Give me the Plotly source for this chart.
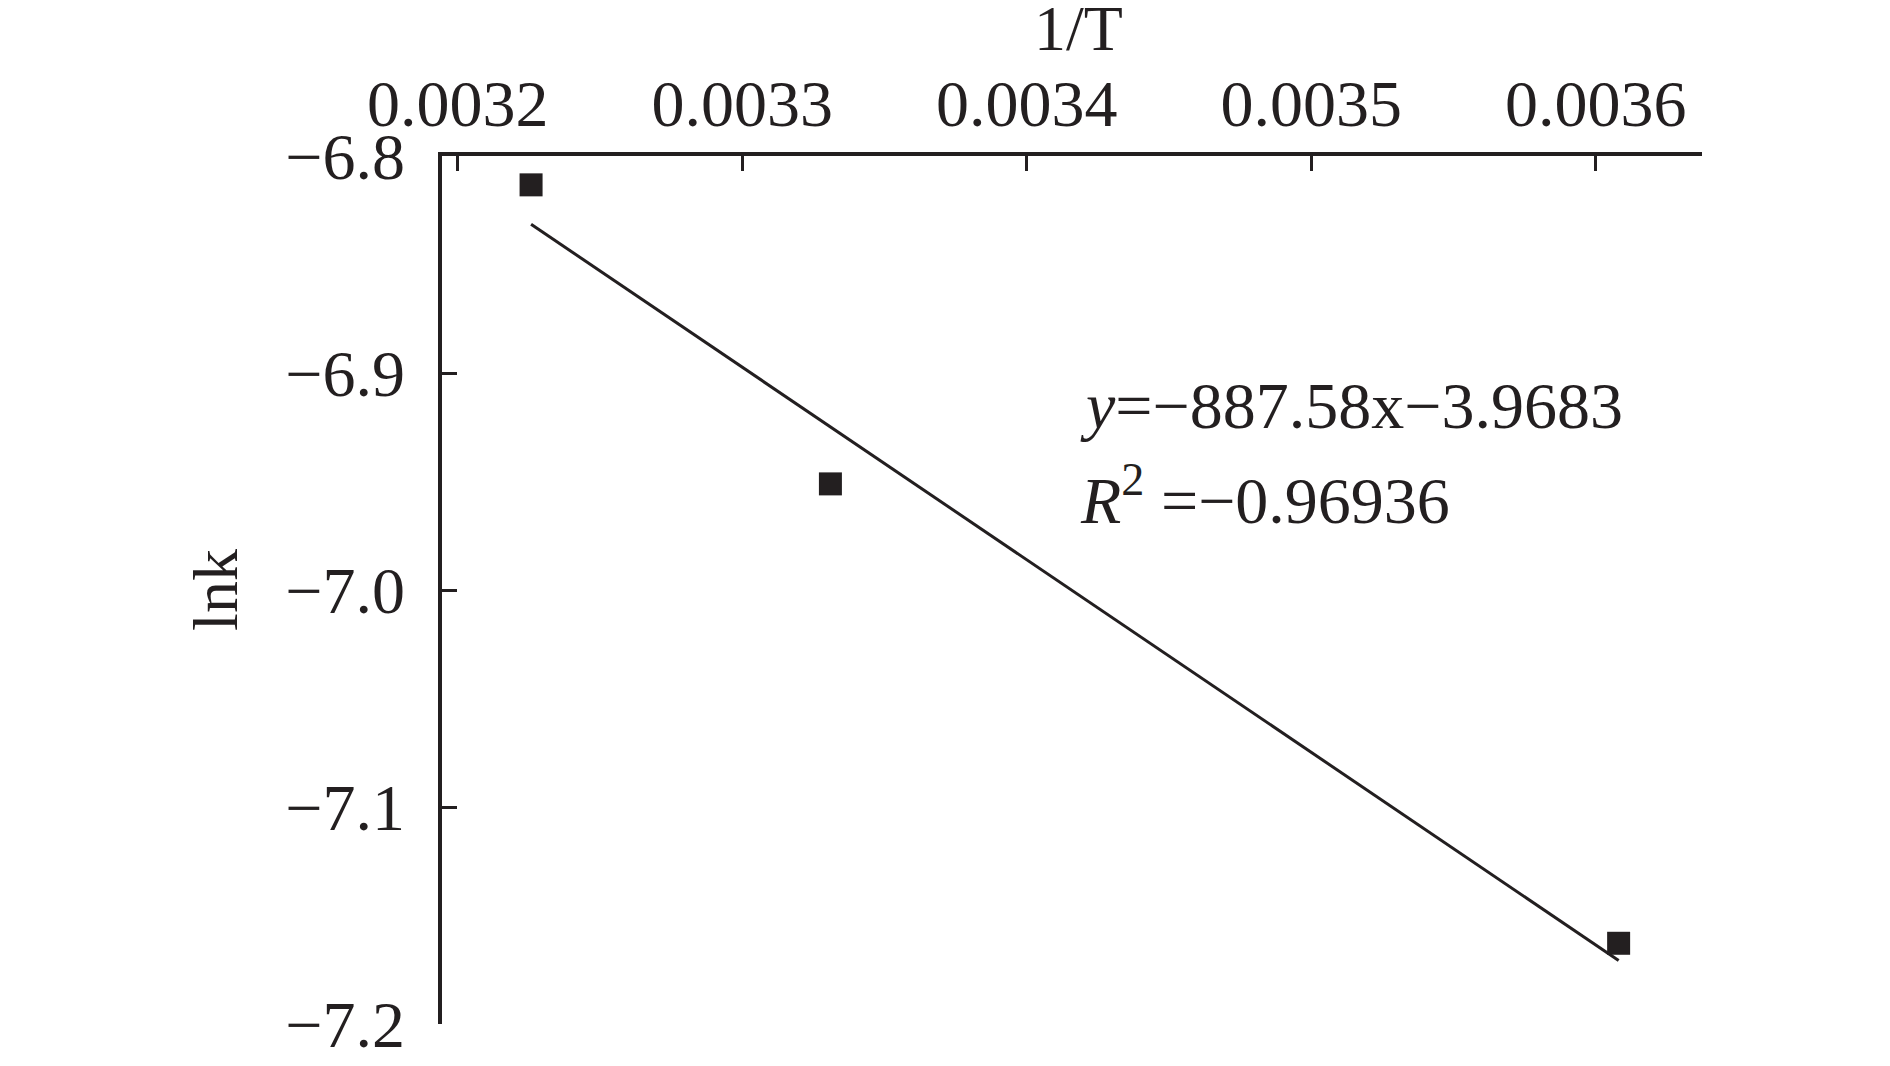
import plotly.graph_objects as go

# Data
inv_T = [0.0032258, 0.0033310, 0.0036080]
ln_k = [-6.8133, -6.9511, -7.1628]
slope = -887.58
intercept = -3.9683
x_ticks = [0.0032, 0.0033, 0.0034, 0.0035, 0.0036]
x_tick_labels = ["0.0032", "0.0033", "0.0034", "0.0035", "0.0036"]
y_ticks = [-6.8, -6.9, -7.0, -7.1, -7.2]
y_tick_labels = ["\u22126.8", "\u22126.9", "\u22127.0", "\u22127.1", "\u22127.2"]
x_title = "1/T"
y_title = "lnk"
eq_text = "<i>y</i>=\u2212887.58x\u22123.9683"
r2_text = "<i>R</i><sup>2</sup> =\u22120.96936"

ink = "#231F20"
font_family = "Liberation Serif, Times New Roman, serif"

fit_x = [min(inv_T), max(inv_T)]
fit_y = [slope * v + intercept for v in fit_x]

fig = go.Figure()
fig.add_trace(go.Scatter(x=fit_x, y=fit_y, mode="lines",
                         line=dict(color=ink, width=3), showlegend=False))
fig.add_trace(go.Scatter(x=inv_T, y=ln_k, mode="markers",
                         marker=dict(symbol="square", size=23, color=ink),
                         showlegend=False))

fig.update_layout(
    width=1890, height=1066,
    margin=dict(l=434, r=196, t=148, b=50),
    paper_bgcolor="white", plot_bgcolor="white",
    font=dict(family=font_family, size=66, color=ink),
    xaxis=dict(
        side="top", range=[0.0031945, 0.0036373], automargin=False,
        tickvals=x_ticks, ticktext=x_tick_labels,
        ticks="inside", ticklen=15, tickwidth=3, tickcolor=ink,
        showline=True, linecolor=ink, linewidth=3.5,
        showgrid=False, zeroline=False,
        ticklabelstandoff=0,
    ),
    yaxis=dict(
        range=[-7.2, -6.8], automargin=False,
        tickvals=y_ticks, ticktext=y_tick_labels,
        ticks="inside", ticklen=15, tickwidth=3, tickcolor=ink,
        showline=True, linecolor=ink, linewidth=3.5,
        showgrid=False, zeroline=False,
        ticklabelstandoff=20,
        title=dict(text=y_title, standoff=28, font=dict(size=64)),
    ),
    annotations=[
        dict(text=x_title, xref="paper", yref="paper", x=0.505, y=1.147,
             xanchor="center", yanchor="middle", showarrow=False,
             font=dict(size=64, color=ink, family=font_family)),
        dict(text=eq_text, xref="paper", yref="paper", x=0.5045, y=0.713,
             xanchor="left", yanchor="middle", showarrow=False,
             font=dict(size=66, color=ink, family=font_family)),
        dict(text=r2_text, xref="paper", yref="paper", x=0.5045, y=0.609,
             xanchor="left", yanchor="middle", showarrow=False,
             font=dict(size=66, color=ink, family=font_family)),
    ],
)

fig.write_html("out.html")
